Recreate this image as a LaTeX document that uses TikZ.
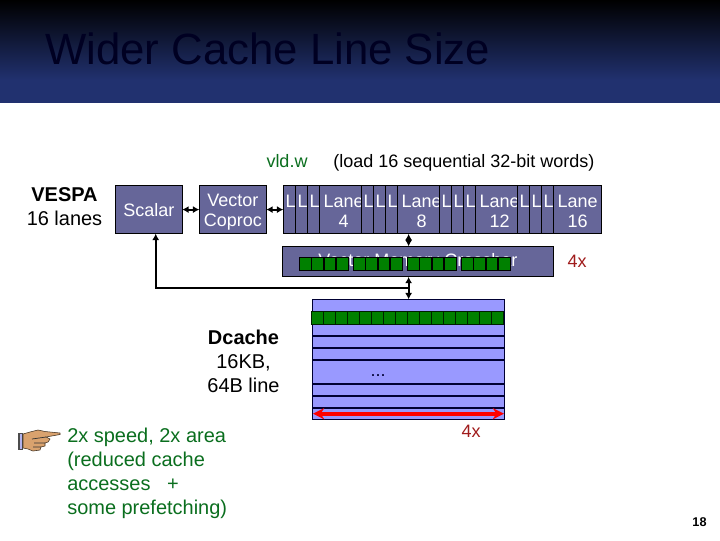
\documentclass[tikz,border=0pt]{standalone}
\usepackage{fontspec}
\setmainfont{Liberation Sans}
\usepackage{tikz}
\usetikzlibrary{calc,arrows.meta}
\usetikzlibrary{positioning}
\definecolor{sl-head}{HTML}{21316F}
\definecolor{sl-title}{HTML}{000022}
\definecolor{sl-box}{HTML}{666699}
\definecolor{sl-cache}{HTML}{9999FF}
\definecolor{sl-line}{HTML}{000033}
\definecolor{sl-word}{HTML}{008000}
\definecolor{sl-green}{HTML}{0A6E1E}
\definecolor{sl-note}{HTML}{A01C1C}
\definecolor{sl-skin}{HTML}{D9A26E}
\newcommand{\lanestrut}{\rule{0pt}{11.5pt}}
\tikzset{
    txtA/.style={font=\fontsize{12.8pt}{14.4pt}\selectfont, inner sep=0pt},
    txtB/.style={font=\fontsize{14.2pt}{17pt}\selectfont, inner sep=0pt, align=center},
    procbox/.style={draw=black, fill=sl-box, text=white, txtA, align=center, minimum width=1.66cm, minimum height=1.2cm, anchor=north west},
    lanecell/.style={draw=black, fill=sl-box, text=white, txtA, align=center, minimum height=1.2cm, anchor=north west},
    wordcell/.style={draw=black, line width=0.9pt, fill=sl-word, inner sep=0pt, minimum width=0.3cm, minimum height=0.325cm},
    bus/.style={line width=1.4pt, black, >={Latex[length=4.5pt,width=5pt]}}
}
\begin{document}
\begin{tikzpicture}[x=0.025cm, y=-0.025cm]
    \useasboundingbox (0,0) rectangle (720,540);

    % Title band
    \shade[top color=black, bottom color=sl-head] (0,0) rectangle (720,80);
    \fill[sl-head] (0,80) rectangle (720,103);
    \node[anchor=base west, inner sep=0pt, text=sl-title, font=\fontsize{31.1pt}{36pt}\selectfont] (title) at (45,64) {Wider Cache Line Size};

    % Labels over the lanes
    \node[anchor=base, txtA, text=sl-green] (vld) at (287,167) {vld.w};
    \node[anchor=base west, txtA] (load) at (333,167) {(load 16 sequential 32-bit words)};
    \node[txtB] (vespa) at (64.5,207) {\textbf{VESPA}\\16 lanes};

    % Processors
    \node[procbox] (scalar) at (115.3,185.3) {Scalar};
    \node[procbox] (vector) at (199.3,185.3) {\rule{0pt}{13pt}Vector\\Coproc};

    % Lanes
    \foreach \x/\n in {319.3/4, 397.3/8, 475.3/12, 553.3/16}
        \node[lanecell, minimum width=1.2cm] (lane\n) at (\x,185.3) {\lanestrut Lane\\\n};
    \foreach \x/\n in {283.3/1, 295.3/2, 307.3/3, 361.3/5, 373.3/6, 385.3/7, 439.3/9, 451.3/10, 463.3/11, 517.3/13, 529.3/14, 541.3/15}
        \node[lanecell, minimum width=0.3cm] (lane\n) at (\x,185.3) {\lanestrut\hspace*{1.4pt}L\\~};

    % Crossbar
    \node[draw=black, fill=sl-box, text=white, txtA, minimum width=6.76cm, minimum height=0.75cm, anchor=north west] (crossbar) at (282.3,246.3) {Vector Memory Crossbar};
    \foreach \g/\x in {a/305.5, b/359.5, c/413.5, d/467.5}
        \foreach \i in {0,1,2,3}
            \node[wordcell] (bar\g\i) at ({\x+\i*12.3},264) {};
    \node[txtA, text=sl-note] (barx) at (577,261.5) {4x};

    % Cache
    \node[draw=sl-line, fill=sl-cache, inner sep=0pt, minimum width=4.8cm, minimum height=3cm, anchor=north west] (cache) at (312.3,299.3) {};
    \foreach \y in {336,348,360,384,396,408}
        \draw[sl-line, line width=1.1pt] (cache.west |- 0,\y) -- (cache.east |- 0,\y);
    \foreach \i in {0,...,15}
        \node[wordcell, draw=black!75!sl-word] (line\i) at ({317.6+\i*12},318) {};
    \node[txtA, text=sl-line] (dots) at (378,376) {...};
    \coordinate (wl) at (313,413.7);
    \coordinate (wr) at (504,413.7);
    \draw[{Stealth[length=8pt,width=8pt]}-{Stealth[length=8pt,width=8pt]}, line width=2.7pt, red] (wl) -- (wr);
    \node[txtA, text=sl-note] (cachex) at (471,431) {4x};
    \node[txtB] (dcache) at (243.5,361) {\textbf{Dcache}\\16KB,\\64B line};

    % Buses
    \coordinate (bend) at (408.3,287.7);
    \coordinate (scalarin) at (155.7,233.7);
    \draw[bus, <->] (scalar) -- (vector);
    \draw[bus, <->] (vector) -- (lane1);
    \draw[bus, <->] (cache.north |- lane8.south) -- (cache.north |- crossbar.north);
    \draw[bus, <->] (cache.north |- crossbar.south) -- (cache.north);
    \draw[bus, ->] (bend) -| (scalarin);

    % Pointing hand
    \fill[black!70] (18,433) rectangle (23,450);
    \fill[black!25!blue!30!white] (20,434) rectangle (22,449);
    \draw[black!70!sl-skin, fill=sl-skin, line width=0.4pt] (23,434) -- (30,432) -- (38,430) -- (45,431.5) -- (60,433) -- (60,434.5) -- (46,437) -- (50,439) -- (48,442) -- (45,443) -- (45,446) -- (41,447) -- (40,450) -- (33,451) -- (28,449) -- (23,448) -- cycle;
    \draw[black!80, line width=0.5pt] (32,439) -- (46,437) (34,443) -- (45,443) (33,447) -- (41,447);

    % Note
    \node[txtB, text=sl-green, align=left, anchor=north west] (note) at (67,428) {2x speed, 2x area\\(reduced cache\\accesses \ \ +\\some prefetching)};

    % Page number
    \node[inner sep=0pt, font=\fontsize{9pt}{10pt}\selectfont\bfseries] (page) at (699.5,522) {18};
\end{tikzpicture}
\end{document}
